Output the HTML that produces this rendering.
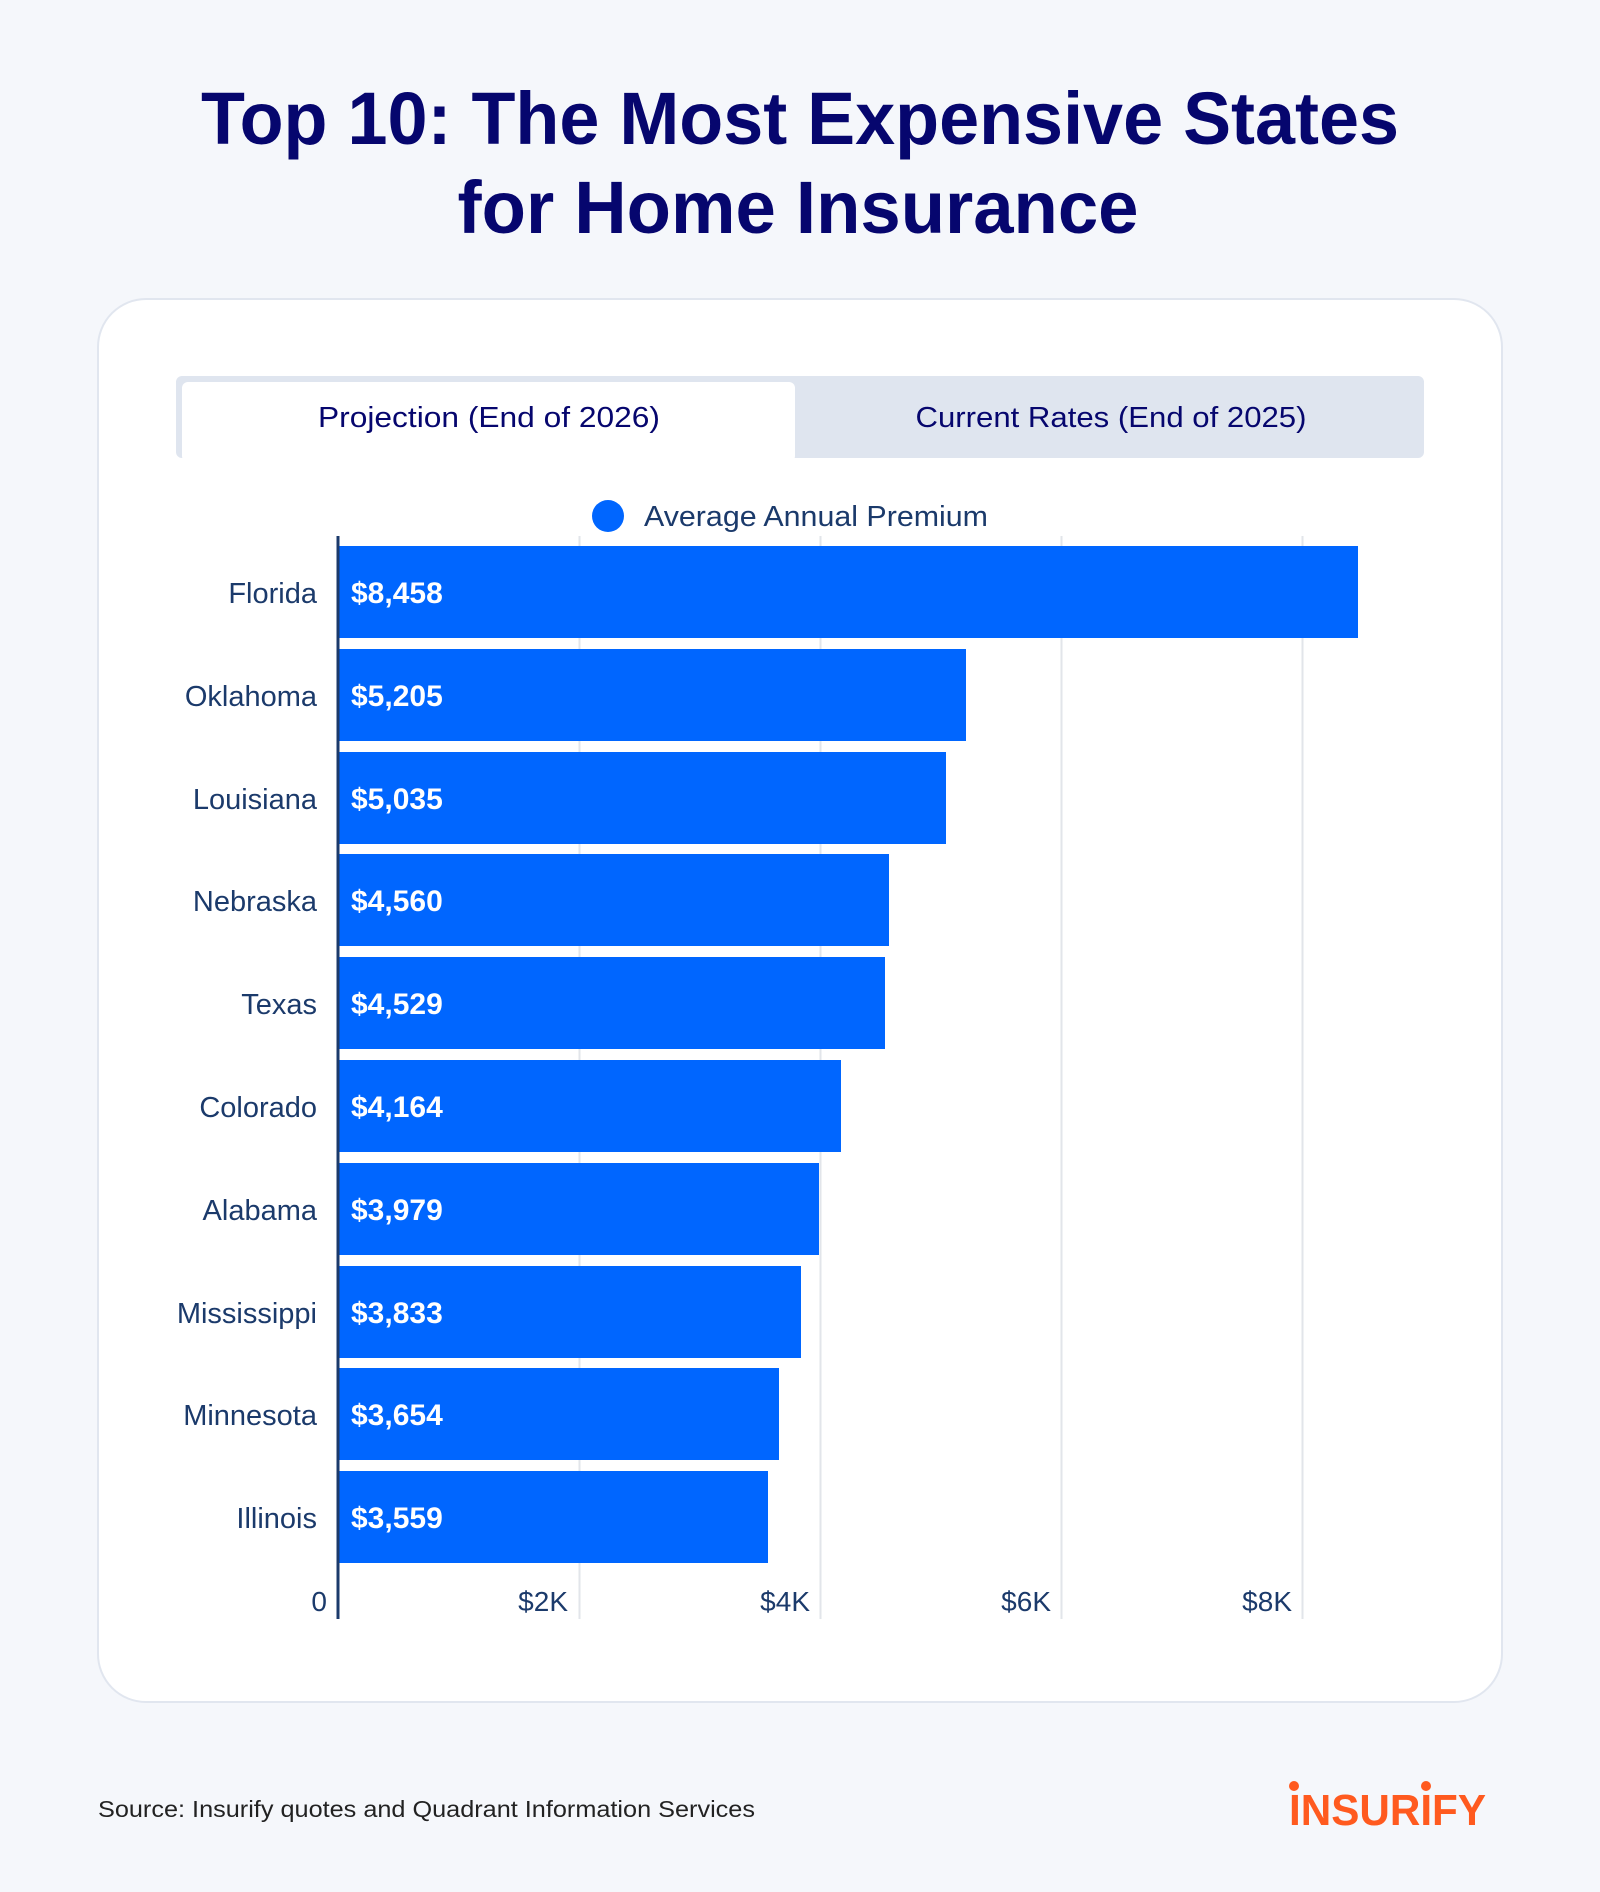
<!DOCTYPE html>
<html><head><meta charset="utf-8"><style>
html,body{margin:0;padding:0;background:#f5f7fb;}
svg{display:block;}
text{font-family:"Liberation Sans",sans-serif;}
</style></head><body>
<svg width="1600" height="1892" viewBox="0 0 1600 1892" xmlns="http://www.w3.org/2000/svg">
<rect x="0" y="0" width="1600" height="1892" fill="#f5f7fb"/>
<text x="800" y="144" text-anchor="middle" font-size="74" font-weight="bold" fill="#06066e" textLength="1198" lengthAdjust="spacingAndGlyphs">Top 10: The Most Expensive States</text>
<text x="798" y="233" text-anchor="middle" font-size="74" font-weight="bold" fill="#06066e" textLength="681" lengthAdjust="spacingAndGlyphs">for Home Insurance</text>
<rect x="98" y="299" width="1404" height="1403" rx="48" fill="#ffffff" stroke="#e1e6ef" stroke-width="2"/>
<rect x="176" y="376" width="1248" height="82" rx="6" fill="#dfe5ef"/>
<rect x="182" y="382" width="613" height="80" rx="6" fill="#ffffff"/>
<text x="489" y="427" text-anchor="middle" font-size="29" fill="#06066e" textLength="342" lengthAdjust="spacingAndGlyphs">Projection (End of 2026)</text>
<text x="1111" y="427" text-anchor="middle" font-size="29" fill="#06066e" textLength="391" lengthAdjust="spacingAndGlyphs">Current Rates (End of 2025)</text>
<circle cx="608" cy="516" r="16" fill="#0066ff"/>
<text x="644" y="526" font-size="29" fill="#1b3a6b" textLength="344" lengthAdjust="spacingAndGlyphs">Average Annual Premium</text>
<g stroke="#e2e5ea" stroke-width="2">
<line x1="579.5" y1="536" x2="579.5" y2="1619"/>
<line x1="820.5" y1="536" x2="820.5" y2="1619"/>
<line x1="1061.5" y1="536" x2="1061.5" y2="1619"/>
<line x1="1302.5" y1="536" x2="1302.5" y2="1619"/>
</g>
<g fill="#0066ff">
<rect x="339" y="546" width="1019" height="92"/>
<rect x="339" y="649" width="627" height="92"/>
<rect x="339" y="752" width="607" height="92"/>
<rect x="339" y="854" width="550" height="92"/>
<rect x="339" y="957" width="546" height="92"/>
<rect x="339" y="1060" width="502" height="92"/>
<rect x="339" y="1163" width="480" height="92"/>
<rect x="339" y="1266" width="462" height="92"/>
<rect x="339" y="1368" width="440" height="92"/>
<rect x="339" y="1471" width="429" height="92"/>
</g>
<line x1="338" y1="536" x2="338" y2="1619" stroke="#1b3a6b" stroke-width="3"/>
<g font-size="29" fill="#1b3a6b" text-anchor="end">
<text x="317" y="603">Florida</text>
<text x="317" y="706">Oklahoma</text>
<text x="317" y="809">Louisiana</text>
<text x="317" y="911">Nebraska</text>
<text x="317" y="1014">Texas</text>
<text x="317" y="1117">Colorado</text>
<text x="317" y="1220">Alabama</text>
<text x="317" y="1323">Mississippi</text>
<text x="317" y="1425">Minnesota</text>
<text x="317" y="1528">Illinois</text>
</g>
<g font-size="30" font-weight="bold" fill="#ffffff">
<text x="351" y="603">$8,458</text>
<text x="351" y="706">$5,205</text>
<text x="351" y="809">$5,035</text>
<text x="351" y="911">$4,560</text>
<text x="351" y="1014">$4,529</text>
<text x="351" y="1117">$4,164</text>
<text x="351" y="1220">$3,979</text>
<text x="351" y="1323">$3,833</text>
<text x="351" y="1425">$3,654</text>
<text x="351" y="1528">$3,559</text>
</g>
<g font-size="28" fill="#1b3a6b" text-anchor="end">
<text x="327" y="1611">0</text>
<text x="568" y="1611">$2K</text>
<text x="810" y="1611">$4K</text>
<text x="1051" y="1611">$6K</text>
<text x="1292" y="1611">$8K</text>
</g>
<text x="98" y="1817" font-size="23" fill="#222222" textLength="657" lengthAdjust="spacingAndGlyphs">Source: Insurify quotes and Quadrant Information Services</text>
<text x="1289" y="1825" font-size="44" font-weight="bold" fill="#ff5a1f" textLength="197" lengthAdjust="spacingAndGlyphs">INSURIFY</text>
<circle cx="1294" cy="1786" r="5" fill="#ff5a1f"/>
<circle cx="1426" cy="1786" r="5" fill="#ff5a1f"/>
</svg>
</body></html>
